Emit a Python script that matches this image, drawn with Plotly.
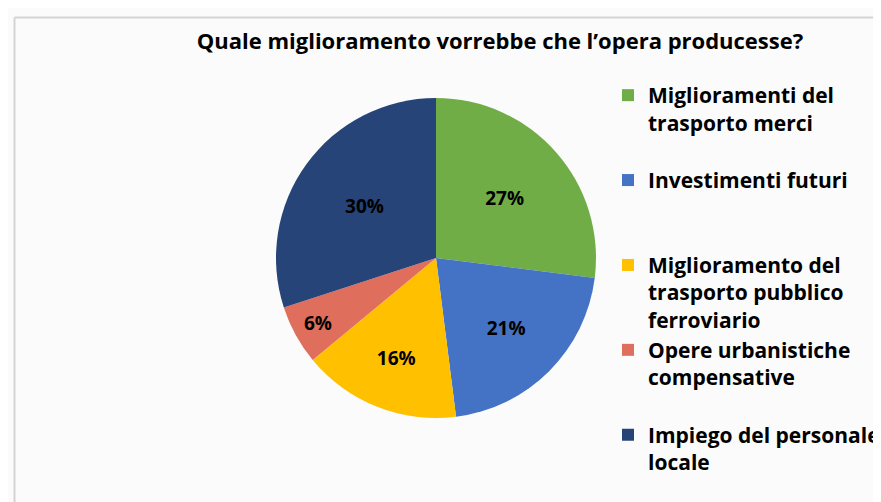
import plotly.graph_objects as go

labels = [
    "Miglioramenti del<br>trasporto merci",
    "Investimenti futuri",
    "Miglioramento del<br>trasporto pubblico<br>ferroviario",
    "Opere urbanistiche<br>compensative",
    "Impiego del personale<br>locale",
]
values = [27, 21, 16, 6, 30]
colors = ["#70AD47", "#4472C4", "#FFC000", "#DF6E5C", "#264478"]
title_text = "Quale miglioramento vorrebbe che l\u2019opera producesse?"

W, H = 881, 502
font_family = "'Open Sans', Lato, sans-serif"

# pad legend labels to 3 lines so entries are evenly spaced
def pad(lbl, n=3):
    k = lbl.count("<br>") + 1
    return lbl + "<br> " * (n - k)

fig = go.Figure(
    go.Pie(
        labels=[pad(l) for l in labels[:-1]] + [labels[-1]],
        values=values,
        sort=False,
        direction="clockwise",
        rotation=0,
        marker=dict(colors=colors, line=dict(width=0)),
        texttemplate="%{value}%",
        textposition="inside",
        insidetextorientation="horizontal",
        textfont=dict(family=font_family, size=19, color="black", weight="bold"),
        domain=dict(x=[268 / W, 588 / W], y=[1 - 410 / H, 1 - 90 / H]),
        hoverinfo="label+percent",
    )
)

fig.update_layout(
    width=W,
    height=H,
    margin=dict(l=0, r=0, t=0, b=0, autoexpand=False),
    paper_bgcolor="#fbfbfb",
    plot_bgcolor="#fbfbfb",
    font=dict(family=font_family, color="black"),
    title=dict(
        text=title_text,
        x=492 / W,
        xanchor="center",
        y=1 - 33 / H,
        yanchor="middle",
        font=dict(size=22, weight="bold", color="black", family=font_family),
    ),
    legend=dict(
        x=600 / W,
        y=1 - 67 / H,
        xanchor="left",
        yanchor="top",
        valign="top",
        font=dict(size=21, weight="bold", color="black", family=font_family),
        bgcolor="rgba(0,0,0,0)",
        tracegroupgap=0,
        itemwidth=30,
    ),
    shapes=[
        dict(type="line", xref="paper", yref="paper", x0=6.5 / W, x1=1, y0=1 - 9.5 / H, y1=1 - 9.5 / H,
             line=dict(color="#d4d4d4", width=2)),
        dict(type="line", xref="paper", yref="paper", x0=6.5 / W, x1=6.5 / W, y0=0, y1=1 - 9.5 / H,
             line=dict(color="#d4d4d4", width=2)),
    ],
)

fig.write_html("out.html")
